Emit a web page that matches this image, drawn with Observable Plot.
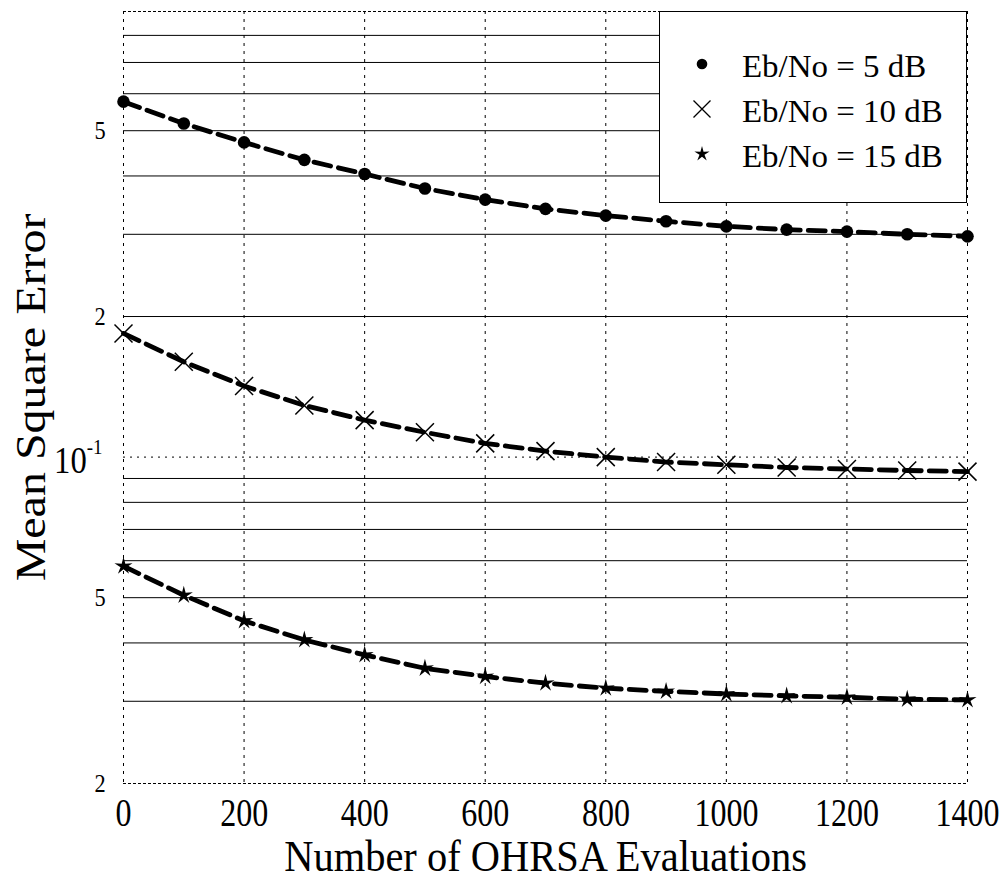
<!DOCTYPE html>
<html>
<head>
<meta charset="utf-8">
<script src="https://cdn.jsdelivr.net/npm/d3@7"></script>
<script src="https://cdn.jsdelivr.net/npm/@observablehq/plot@0.6"></script>
<style>
html, body { margin: 0; padding: 0; background: #fff; }
#wrap { position: relative; width: 1002px; height: 880px; overflow: hidden; }
#legend { position: absolute; left: 659px; top: 11px; }
g[aria-label="x-axis tick label"] text { font-size: 40px; }
g[aria-label="y-axis tick label"] text { font-size: 26px; }
g[aria-label="x-axis label"] text { font-size: 44px; }
g[aria-label="y-axis label"] text { font-size: 48px; }
</style>
</head>
<body>
<div id="wrap"></div>
<script>
// ---- data ----
const evaluations = [0, 100, 200, 300, 400, 500, 600, 700, 800, 900, 1000, 1100, 1200, 1300, 1400];
const mse5dB  = [0.577, 0.518, 0.472, 0.433, 0.404, 0.376, 0.356, 0.340, 0.329, 0.320, 0.312, 0.307, 0.304, 0.300, 0.297];
const mse10dB = [0.184, 0.160, 0.142, 0.129, 0.120, 0.113, 0.107, 0.103, 0.100, 0.0976, 0.0963, 0.0950, 0.0943, 0.0936, 0.0931];
const mse15dB = [0.0584, 0.0506, 0.0446, 0.0406, 0.0377, 0.0353, 0.0339, 0.0328, 0.0320, 0.0315, 0.0311, 0.0308, 0.0306, 0.0303, 0.0302];
const seriesNames = ["Eb/No = 5 dB", "Eb/No = 10 dB", "Eb/No = 15 dB"];
const xTicks = [0, 200, 400, 600, 800, 1000, 1200, 1400];
const yTicks = [0.02, 0.05, 0.1, 0.2, 0.5];
const yTickLabels = ["2", "5", "10⁻¹", "2", "5"];
const yGridSolid = [0.03, 0.04, 0.05, 0.06, 0.07, 0.08, 0.09, 0.2, 0.3, 0.4, 0.5, 0.6, 0.7, 0.8];
const yGridDotted = [0.1];
const yGridEdges = [0.02, 0.9];
const xLabel = "Number of OHRSA Evaluations";
const yLabel = "Mean Square Error";

const rows = (vals) => evaluations.map((e, i) => ({x: e, y: vals[i]}));
const rows5 = rows(mse5dB), rows10 = rows(mse10dB), rows15 = rows(mse15dB);

// custom symbols
const crossSym = {draw(ctx, size) { const r = Math.sqrt(size / Math.PI);
  ctx.moveTo(-r, -r); ctx.lineTo(r, r); ctx.moveTo(-r, r); ctx.lineTo(r, -r); }};
const starSym = {draw(ctx, size) { const R = Math.sqrt(size / Math.PI), ri = R * 0.33;
  for (let k = 0; k < 10; k++) { const a = -Math.PI / 2 + k * Math.PI / 5; const rr = k % 2 ? ri : R;
    const px = rr * Math.cos(a), py = rr * Math.sin(a); if (k) ctx.lineTo(px, py); else ctx.moveTo(px, py); }
  ctx.closePath(); }};

const lineStyle = {x: "x", y: "y", stroke: "#000", strokeWidth: 4.8, strokeDasharray: "17,8"};

const chart = Plot.plot({
  width: 1002, height: 880,
  marginLeft: 123, marginRight: 35, marginTop: 11, marginBottom: 97,
  style: {fontFamily: "'Liberation Serif', 'Times New Roman', serif", background: "#fff", color: "#000"},
  x: {domain: [0, 1400]},
  y: {type: "log", domain: [0.02, 0.9]},
  marks: [
    Plot.ruleY(yGridSolid, {stroke: "#000", strokeWidth: 1}),
    Plot.ruleY(yGridDotted, {stroke: "#000", strokeWidth: 1, strokeDasharray: "2,5"}),
    Plot.ruleY(yGridEdges, {stroke: "#000", strokeWidth: 1, strokeDasharray: "3,2"}),
    Plot.ruleX(xTicks, {stroke: "#000", strokeWidth: 1, strokeDasharray: "3,5"}),
    Plot.line(rows5, lineStyle),
    Plot.line(rows10, lineStyle),
    Plot.line(rows15, lineStyle),
    Plot.dot(rows5, {x: "x", y: "y", r: 6.3, symbol: "circle", fill: "#000", stroke: "none"}),
    Plot.dot(rows10, {x: "x", y: "y", r: 9, symbol: crossSym, fill: "none", stroke: "#000", strokeWidth: 1.5}),
    Plot.dot(rows15, {x: "x", y: "y", r: 9.5, symbol: starSym, fill: "#000", stroke: "none"}),
    Plot.axisX({ticks: xTicks, tickSize: 0, tickPadding: 14, tickFormat: d3.format("d"),
      label: xLabel, labelAnchor: "center", labelArrow: "none", labelOffset: 87}),
    Plot.axisY({ticks: yTicks, tickSize: 0, tickPadding: 15, tickFormat: (d) => yTickLabels[yTicks.indexOf(d)],
      label: yLabel, labelAnchor: "center", labelArrow: "none", labelOffset: 97})
  ]
});

const wrap = document.getElementById("wrap");
wrap.appendChild(chart);

// superscript for 10^-1
chart.querySelectorAll('g[aria-label="y-axis tick label"] text').forEach((t) => {
  if (t.textContent === "10⁻¹") {
    t.textContent = "";
    const a = document.createElementNS("http://www.w3.org/2000/svg", "tspan");
    a.textContent = "10"; a.style.fontSize = "38px"; a.setAttribute("dy", "0.2em");
    const b = document.createElementNS("http://www.w3.org/2000/svg", "tspan");
    b.textContent = "-1"; b.style.fontSize = "22px"; b.setAttribute("dy", "-0.85em");
    t.appendChild(a); t.appendChild(b);
  }
});

// horizontal compression of text as in the reference
function squeeze(selector, s) {
  const sr = chart.getBoundingClientRect();
  chart.querySelectorAll(selector).forEach((t) => {
    const r = t.getBoundingClientRect();
    const cx = r.left + r.width / 2 - sr.left;
    const g = document.createElementNS("http://www.w3.org/2000/svg", "g");
    g.setAttribute("transform", `translate(${cx},0) scale(${s},1) translate(${-cx},0)`);
    t.parentNode.insertBefore(g, t);
    g.appendChild(t);
  });
}
squeeze('g[aria-label="x-axis tick label"] text', 0.8);
squeeze('g[aria-label="y-axis tick label"] text', 0.86);
squeeze('g[aria-label="x-axis label"] text', 0.92);
squeeze('g[aria-label="y-axis label"] text', 0.86);

// legend
const lg = d3.select(wrap).append("svg").attr("id", "legend").attr("width", 308).attr("height", 192);
lg.append("rect").attr("x", 0.5).attr("y", 0.5).attr("width", 307).attr("height", 191).attr("fill", "#fff").attr("stroke", "#000").attr("stroke-width", 1);
const legendSymbols = [
  {sym: d3.symbolCircle, r: 5.3, fill: "#000", stroke: "none", sw: 0},
  {sym: crossSym, r: 8.5, fill: "none", stroke: "#000", sw: 1.3},
  {sym: starSym, r: 8, fill: "#000", stroke: "none", sw: 0}
];
seriesNames.forEach((name, i) => {
  const s = legendSymbols[i];
  lg.append("path").attr("transform", `translate(43,${53 + 45 * i})`)
    .attr("d", d3.symbol(s.sym, Math.PI * s.r * s.r)())
    .attr("fill", s.fill).attr("stroke", s.stroke).attr("stroke-width", s.sw);
  lg.append("text").attr("transform", `translate(83,${66 + 45 * i}) scale(1.03,1)`)
    .attr("font-family", "'Liberation Serif', 'Times New Roman', serif").attr("font-size", 32).attr("fill", "#000")
    .text(name);
});
</script>
</body>
</html>
